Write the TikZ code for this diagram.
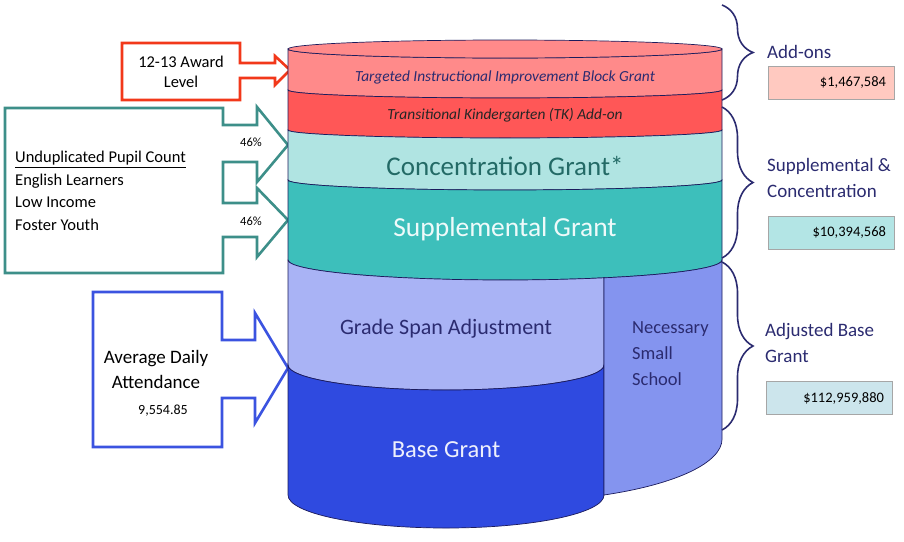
\documentclass[tikz,border=0pt]{standalone}
\usepackage{fontspec}
\setmainfont{Carlito}
\usetikzlibrary{decorations.pathreplacing}
\definecolor{colorrim}{HTML}{1B1B5C}
\definecolor{colortiibg}{HTML}{FF8A8A}
\definecolor{colortk}{HTML}{FF5757}
\definecolor{colorconc}{HTML}{B0E4E2}
\definecolor{colorsupp}{HTML}{3DBFBB}
\definecolor{colorgsa}{HTML}{A9B3F5}
\definecolor{colornss}{HTML}{8494EF}
\definecolor{colorbase}{HTML}{2F4AE0}
\definecolor{colorred}{HTML}{F2381A}
\definecolor{colorteal}{HTML}{3D8F89}
\definecolor{colorblue}{HTML}{3B53E0}
\definecolor{colornavy}{HTML}{2B2B70}
\definecolor{colorconctext}{HTML}{236A66}
\definecolor{coloradd}{HTML}{FFC9C0}
\definecolor{colorsc}{HTML}{B3E5E5}
\definecolor{coloradj}{HTML}{CCE5EC}
\tikzset{
  layer/.style={draw=colorrim, line width=0.7pt},
  redarrow/.style={draw=colorred, line width=2.6pt, fill=white},
  tealarrow/.style={draw=colorteal, line width=2.6pt, fill=white},
  bluearrow/.style={draw=colorblue, line width=2.6pt, fill=white},
  bracenavy/.style={draw=colornavy, line width=1.6pt, decorate,
    decoration={brace, amplitude=31pt}},
  sumlabel/.style={colornavy, font=\fontsize{19}{26}\selectfont, align=left, anchor=west, inner sep=0pt},
  valbox/.style={draw=black!35, line width=0.8pt, text width=110pt, align=right,
    minimum height=33pt, inner sep=8pt, font=\fontsize{14.5}{16}\selectfont}
}

\begin{document}
\begin{tikzpicture}[x=1pt, y=1pt, yscale=-1]
\useasboundingbox (0,0) rectangle (904,541);

% input boxes
\filldraw[redarrow] (122,43) -- (240,43) -- (240,63) -- (275,63) -- (275,56) -- (290,70)
  -- (275,85) -- (275,78) -- (240,78) -- (240,100) -- (122,100) -- cycle;
\filldraw[tealarrow] (5,108) -- (223,108) -- (223,125) -- (257,125) -- (257,107) -- (288,145)
  -- (257,182) -- (257,162) -- (223,162) -- (223,203) -- (257,203) -- (257,188) -- (288,220)
  -- (257,257) -- (257,237) -- (223,237) -- (223,273) -- (5,273) -- cycle;
\filldraw[bluearrow] (93,292) -- (222,292) -- (222,340) -- (255,340) -- (255,313) -- (288,368)
  -- (255,423) -- (255,398) -- (222,398) -- (222,447) -- (93,447) -- cycle;

\node[align=center, font=\fontsize{16.5}{20}\selectfont] (award) at (181,72) {12-13 Award\\Level};
\node[align=left, anchor=west, inner sep=0pt, font=\fontsize{16.5}{22.5}\selectfont] (pupil) at (15,191)
  {\underline{Unduplicated Pupil Count}\\English Learners\\Low Income\\Foster Youth};
\node[font=\fontsize{12.5}{14}\selectfont] (pctc) at (251,142) {46\%};
\node[font=\fontsize{12.5}{14}\selectfont] (pcts) at (251,221) {46\%};
\node[align=center, font=\fontsize{19}{25}\selectfont] (ada) at (156,369) {Average Daily\\Attendance};
\node[font=\fontsize{14}{16}\selectfont] (adaval) at (163,411) {9,554.85};

% the cylinder
\filldraw[layer, fill=colortiibg] (288,49) -- (288,90) arc[start angle=180, end angle=0, x radius=217, y radius=8]
  -- (722,49) arc[start angle=0, end angle=180, x radius=217, y radius=9] -- cycle;
\filldraw[layer, fill=colortiibg] (505,49) ellipse[x radius=217, y radius=9];
\filldraw[layer, fill=colortk] (288,90) -- (288,130) arc[start angle=180, end angle=0, x radius=217, y radius=8]
  -- (722,90) arc[start angle=0, end angle=180, x radius=217, y radius=8] -- cycle;
\filldraw[layer, fill=colorconc] (288,130) -- (288,180) arc[start angle=180, end angle=0, x radius=217, y radius=10]
  -- (722,130) arc[start angle=0, end angle=180, x radius=217, y radius=8] -- cycle;
\filldraw[layer, fill=colorsupp] (288,180) -- (288,260) arc[start angle=180, end angle=0, x radius=217, y radius=20]
  -- (722,180) arc[start angle=0, end angle=180, x radius=217, y radius=10] -- cycle;
\filldraw[layer, fill=colorgsa] (288,260) -- (288,365) arc[start angle=180, end angle=0, x radius=158, y radius=25]
  -- (604,277.8) arc[start angle=62.87, end angle=180, x radius=217, y radius=20] -- cycle;
\filldraw[layer, fill=colorbase] (288,365) -- (288,495) arc[start angle=180, end angle=0, x radius=158, y radius=33]
  -- (604,365) arc[start angle=0, end angle=180, x radius=158, y radius=25] -- cycle;
\filldraw[layer, fill=colornss] (604,277.8) -- (604,495) arc[start angle=62.87, end angle=0, x radius=217, y radius=63]
  -- (722,260) arc[start angle=0, end angle=62.87, x radius=217, y radius=20] -- cycle;

\node[colornavy, font=\itshape\fontsize{15.4}{17}\selectfont] (tiibg) at (505,77) {Targeted Instructional Improvement Block Grant};
\node[black!85, font=\itshape\fontsize{15.4}{17}\selectfont] (tk) at (505,115) {Transitional Kindergarten (TK) Add-on};
\node[colorconctext, font=\fontsize{27}{30}\selectfont] (conc) at (505,166) {Concentration Grant*};
\node[white!92!colorsupp, font=\fontsize{27.5}{30}\selectfont] (supp) at (505,229) {Supplemental Grant};
\node[colornavy, font=\fontsize{22}{26}\selectfont] (gsa) at (446,329) {Grade Span Adjustment};
\node[white!92!colorbase, font=\fontsize{24.5}{28}\selectfont] (base) at (446,450) {Base Grant};
\node[sumlabel, font=\fontsize{18.5}{26}\selectfont] (nss) at (632,354) {Necessary\\Small\\School};

% totals
\coordinate (addtop) at (722,5);
\coordinate (addbot) at (722,100);
\coordinate (sctop) at (722,107);
\coordinate (scbot) at (722,258);
\coordinate (adjtop) at (722,262);
\coordinate (adjbot) at (722,430);
\draw[bracenavy] (addtop) -- (addbot);
\draw[bracenavy] (sctop) -- (scbot);
\draw[bracenavy] (adjtop) -- (adjbot);

\node[sumlabel] (addlbl) at (767,52) {Add-ons};
\node[sumlabel] (sclbl) at (767,178) {Supplemental \&\\Concentration};
\node[sumlabel] (adjlbl) at (765,343) {Adjusted Base\\Grant};
\node[valbox, fill=coloradd] (addval) at (831,82.5) {\$1,467,584};
\node[valbox, fill=colorsc] (scval) at (831,232.5) {\$10,394,568};
\node[valbox, fill=coloradj] (adjval) at (829,398) {\$112,959,880};
\end{tikzpicture}
\end{document}
